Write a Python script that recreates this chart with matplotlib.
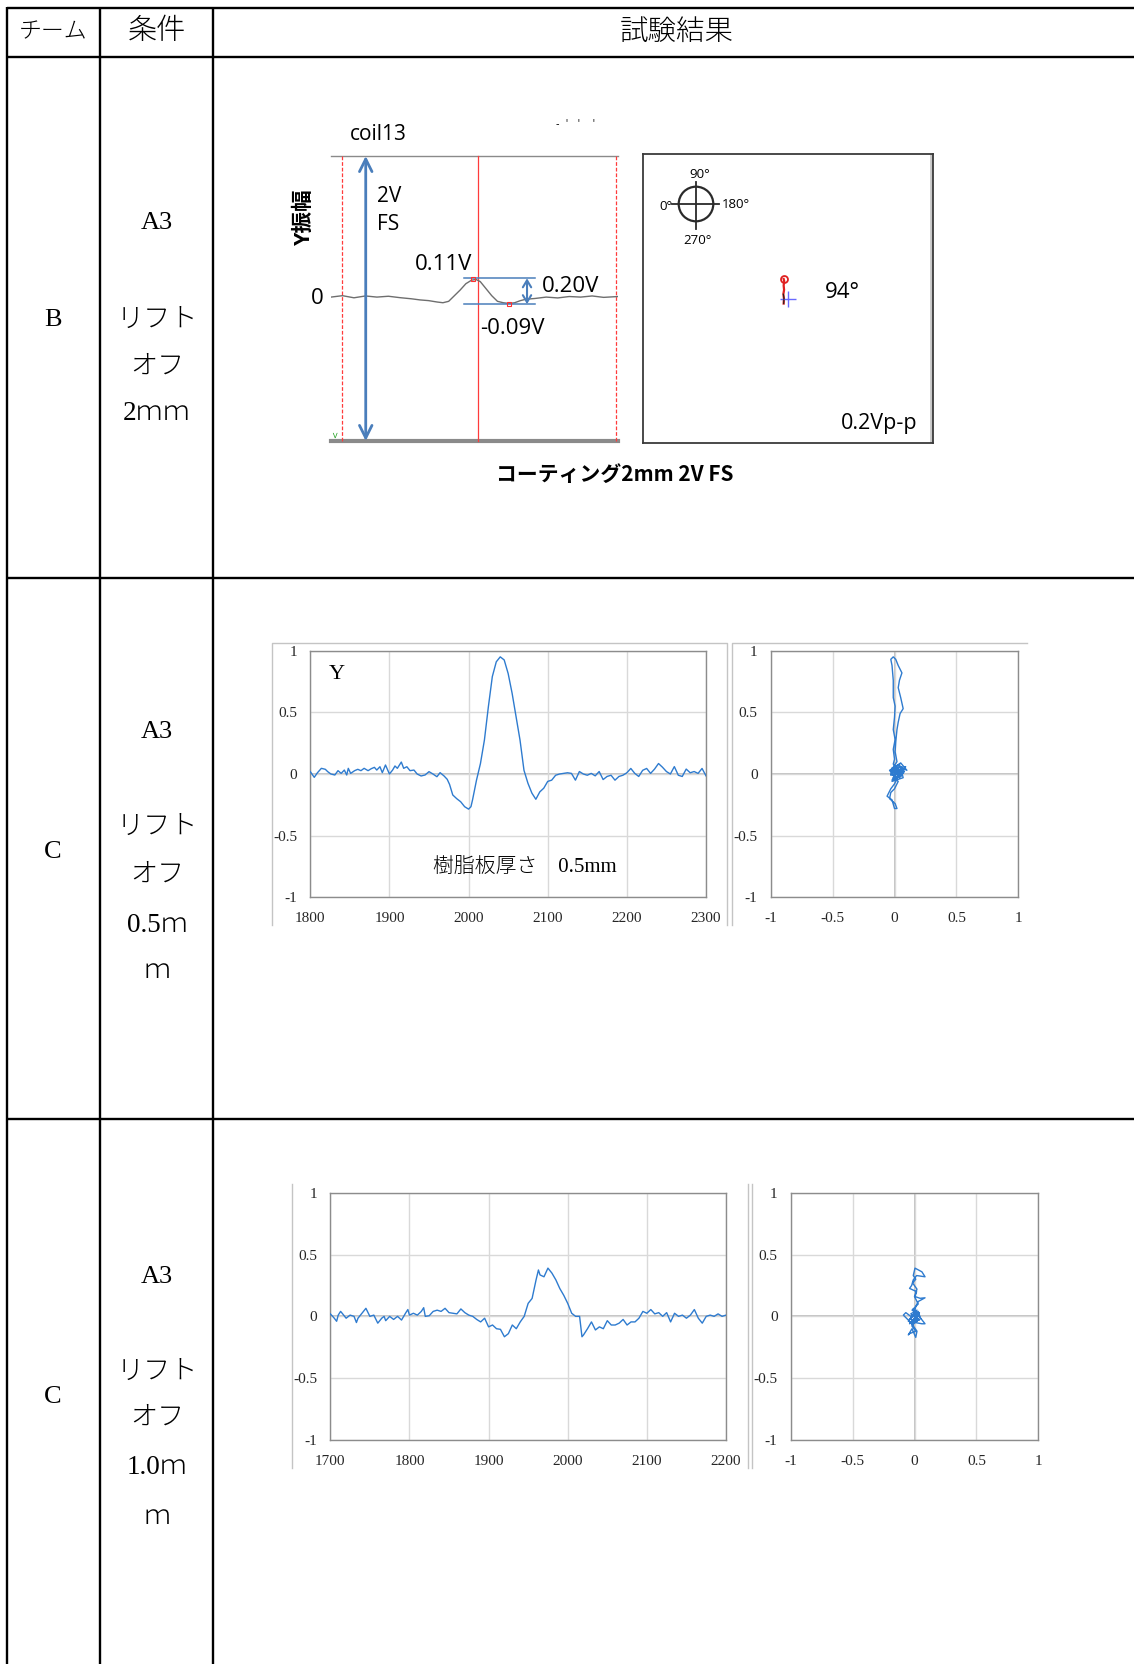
import matplotlib
matplotlib.use("Agg")
import matplotlib.pyplot as plt
from matplotlib.patches import Circle

W, H = 1134, 1664

# ---------------- table text ----------------
header_labels = ["チーム", "条件", "試験結果"]
team_labels = ["B", "C", "C"]
condition_lines = [
    ["A3", "リフト", "オフ", "2ｍｍ"],
    ["A3", "リフト", "オフ", "0.5ｍ", "ｍ"],
    ["A3", "リフト", "オフ", "1.0ｍ", "ｍ"],
]

# ---------------- row B : instrument screen (coil13) ----------------
b_x = [0, 4, 8, 12, 16, 20, 24, 28, 31, 34, 37, 39, 41, 43, 45, 47, 49, 50.5,
       52, 54, 56, 58, 60, 62, 64, 66, 68, 71, 75, 79, 83, 87, 91, 95, 100]
b_y = [0.0, 0.01, -0.005, 0.008, 0.0, 0.006, -0.004, -0.012, -0.02, -0.025,
       -0.035, -0.04, -0.03, 0.01, 0.05, 0.095, 0.12, 0.125, 0.11, 0.06, 0.01,
       -0.03, -0.04, -0.045, -0.04, -0.025, -0.015, -0.01, 0.0, -0.006, 0.004,
       0.0, 0.008, -0.002, 0.004]
cursor_x = [3.7, 51.2, 99.3]
fs_arrow_x = 12.1

# phase display (row B right)
ph_x = [-0.03, -0.028, -0.032, -0.027, -0.03, -0.026, -0.03]
ph_y = [-0.035, 0.0, 0.03, 0.06, 0.09, 0.12, 0.135]

# ---------------- row C (0.5mm) ----------------
c1_x = [1800, 1805, 1809, 1814, 1819, 1822, 1826, 1831, 1835, 1839, 1843, 1846,
        1848, 1851, 1856, 1860, 1864, 1868, 1873, 1877, 1881, 1884, 1888, 1891,
        1895, 1900, 1904, 1907, 1910, 1915, 1918, 1922, 1926, 1931, 1935, 1940,
        1945, 1950, 1955, 1960, 1964, 1969, 1973,
        1976, 1980, 1985, 1990, 1995, 2000, 2003, 2005, 2010, 2015, 2020, 2025,
        2030, 2035, 2040, 2045, 2050, 2055, 2060, 2065, 2070, 2075, 2080, 2085,
        2090, 2095, 2100, 2105, 2110, 2115, 2120, 2125, 2130, 2135, 2140, 2145,
        2150, 2155, 2160, 2165, 2170, 2175, 2180, 2185, 2190, 2195, 2200, 2205,
        2210, 2215, 2220, 2225, 2230, 2235, 2240, 2245, 2250, 2255, 2260, 2265,
        2270, 2275, 2280, 2285, 2290, 2295, 2300]
c1_y = [0.019, -0.027, 0.01, 0.046, 0.038, 0.019, 0.0, -0.008, 0.027, 0.005,
        0.032, -0.008, 0.046, 0.005, 0.027, 0.038, 0.027, 0.046, 0.027, 0.043,
        0.054, 0.032, 0.059, 0.011, 0.073, 0.0, 0.032, 0.065, 0.046, 0.097,
        0.046, 0.059, 0.027, 0.032, 0.0, -0.016, -0.008, 0.019, 0.0, -0.022,
        0.011, -0.016, -0.043,
        -0.085, -0.17, -0.2, -0.225, -0.265, -0.285, -0.265,
        -0.21, -0.05, 0.085, 0.275, 0.545, 0.79, 0.91, 0.95, 0.925, 0.815, 0.655,
        0.465, 0.275, 0.03, -0.075, -0.155, -0.205, -0.145, -0.115, -0.06, -0.05,
        -0.01, 0.0, 0.005, 0.01, 0.005, -0.05, 0.02, 0.0, -0.01, 0.005, -0.015,
        0.02, -0.045, -0.02, -0.01, -0.05, -0.02, -0.01, 0.01, 0.045, 0.005,
        -0.02, 0.03, 0.045, 0.005, 0.04, 0.085, 0.055, 0.02, 0.0, 0.06, -0.01,
        -0.02, 0.04, 0.01, 0.02, 0.005, 0.045, -0.015]
# X-Y (Lissajous) trace, read as (x, y) pairs along the path
c1_xy = [(0.0, 0.0), (0.03, 0.05), (-0.02, 0.02), (0.05, -0.02), (0.08, 0.04),
         (0.02, 0.07), (-0.03, -0.01), (0.06, 0.02), (0.09, 0.06), (0.01, -0.04),
         (-0.04, 0.03), (0.04, 0.08), (0.07, -0.03), (-0.02, -0.06),
         (0.03, -0.02), (0.0, -0.08), (-0.03, -0.12), (-0.06, -0.18),
         (-0.02, -0.21), (0.0, -0.28), (0.02, -0.28), (0.005, -0.24),
         (-0.04, -0.2), (-0.03, -0.15), (0.0, -0.12), (0.03, -0.06),
         (-0.01, -0.03), (0.02, 0.01), (0.06, 0.05), (0.1, 0.03), (0.05, 0.09),
         (0.01, 0.06), (-0.03, 0.0), (0.04, -0.03), (0.08, 0.02), (-0.02, 0.05),
         (0.02, -0.04), (0.06, 0.06), (-0.03, 0.03), (0.05, -0.01), (0.0, 0.07),
         (0.07, 0.01), (-0.02, -0.05), (0.03, 0.04), (-0.01, 0.08), (0.0, 0.12),
         (-0.01, 0.2), (0.005, 0.28), (-0.01, 0.36), (0.0, 0.46), (0.005, 0.55),
         (-0.01, 0.62), (-0.01, 0.76), (-0.02, 0.88), (-0.03, 0.93),
         (-0.01, 0.95), (0.01, 0.93), (0.03, 0.88), (0.06, 0.82), (0.04, 0.76),
         (0.03, 0.7), (0.05, 0.62), (0.07, 0.53), (0.045, 0.49), (0.03, 0.42),
         (0.02, 0.36), (0.01, 0.26), (0.005, 0.18), (0.02, 0.1), (-0.02, 0.04),
         (0.04, 0.0), (0.01, 0.03), (0.06, -0.01), (-0.01, 0.02), (0.03, 0.04),
         (0.0, 0.01)]

# ---------------- row C (1.0mm) ----------------
c2_x = [1700, 1703, 1705, 1708, 1710, 1713, 1715, 1720, 1725, 1730, 1733, 1735,
        1740, 1745, 1750, 1755, 1760, 1765, 1768, 1770, 1775, 1780, 1785, 1790,
        1795, 1798, 1800, 1805, 1810, 1815, 1818, 1820, 1825, 1830, 1835, 1840,
        1845, 1850, 1855, 1860, 1865, 1870, 1875, 1880, 1885, 1890, 1895, 1900,
        1905, 1910, 1915, 1920, 1925, 1930, 1935, 1940, 1945, 1950, 1955, 1960,
        1963, 1965, 1970, 1975, 1980, 1985, 1990, 1995, 2000, 2005, 2010, 2015,
        2018, 2020, 2025, 2030, 2035, 2040, 2045, 2050, 2055, 2060, 2065, 2070,
        2075, 2080, 2085, 2090, 2095, 2100, 2105, 2110, 2115, 2120, 2125, 2130,
        2135, 2140, 2145, 2150, 2155, 2160, 2165, 2170, 2175, 2180, 2185, 2190,
        2195, 2200]
c2_y = [0.02, 0.0, -0.015, -0.04, 0.01, 0.04, 0.025, -0.015, 0.01, 0.0, -0.05,
        -0.015, 0.025, 0.065, 0.0, 0.01, -0.055, -0.015, 0.0, -0.035, 0.0,
        -0.025, 0.0, -0.03, 0.025, 0.055, 0.01, 0.025, 0.01, 0.04, 0.07, 0.0,
        0.005, 0.04, 0.05, 0.04, 0.065, 0.03, 0.025, 0.02, 0.06, 0.03, 0.01, 0.0,
        -0.025, -0.045, -0.015, -0.085, -0.07, -0.1, -0.105, -0.165, -0.14,
        -0.07, -0.1, -0.045, 0.0, 0.105, 0.145, 0.295, 0.375, 0.335, 0.32, 0.39,
        0.35, 0.295, 0.225, 0.17, 0.105, 0.025, 0.0, 0.0, -0.165, -0.15, -0.1,
        -0.045, -0.11, -0.085, -0.1, -0.035, -0.07, -0.07, -0.055, -0.025, -0.07,
        -0.045, -0.045, -0.015, 0.04, 0.025, 0.055, 0.02, 0.03, 0.0, 0.03,
        -0.045, 0.025, 0.0, 0.01, -0.015, 0.01, 0.055, -0.015, -0.055, 0.0,
        0.01, 0.0, 0.02, 0.0, 0.01]
c2_xy = [(0.0, 0.0), (0.04, -0.03), (-0.03, 0.02), (0.02, 0.05), (-0.05, -0.04),
         (0.06, -0.06), (0.085, -0.06), (0.03, 0.01), (-0.02, -0.08),
         (0.01, -0.12), (-0.04, -0.14), (-0.05, -0.15), (-0.02, -0.1),
         (0.01, -0.17), (0.02, -0.12), (-0.03, -0.05), (-0.09, 0.01),
         (-0.07, 0.03), (-0.03, 0.0), (0.03, 0.04), (0.05, -0.02), (-0.01, 0.06),
         (0.02, -0.04), (-0.04, -0.02), (0.04, 0.03), (-0.02, -0.07),
         (0.03, -0.03), (0.0, 0.03), (0.01, 0.08), (0.03, 0.12), (0.085, 0.15),
         (0.045, 0.146), (0.004, 0.16), (0.017, 0.2), (-0.04, 0.226),
         (-0.03, 0.24), (-0.023, 0.25), (-0.01, 0.295), (0.017, 0.33),
         (0.085, 0.32), (0.06, 0.36), (0.004, 0.39), (-0.01, 0.33), (0.01, 0.3),
         (-0.015, 0.27), (0.02, 0.22), (0.0, 0.16), (0.03, 0.1), (-0.02, 0.05),
         (0.03, 0.02), (-0.04, -0.06), (0.0, -0.02)]

y_ticks = [-1, -0.5, 0, 0.5, 1]
y_tick_labels = ["-1", "-0.5", "0", "0.5", "1"]

SERIF_JP = ["Liberation Serif", "Noto Sans CJK JP"]
SANS_JP = ["Open Sans", "Noto Sans CJK JP"]
EXCEL_BLUE = "#2e7bcf"
ARROW_BLUE = "#4a7ebb"


def px_axes(fig, x0, y0, x1, y1):
    return fig.add_axes([x0 / W, 1 - y1 / H, (x1 - x0) / W, (y1 - y0) / H])


def excel_axes(ax, xlim, xticks, xy=False):
    ax.set_facecolor("white")
    ax.set_xlim(*xlim)
    ax.set_ylim(-1, 1)
    ax.set_xticks(xticks)
    if xy:
        ax.set_xticklabels(y_tick_labels)
    else:
        ax.set_xticklabels([str(t) for t in xticks])
    ax.set_yticks(y_ticks)
    ax.set_yticklabels(y_tick_labels)
    ax.grid(True, color="#d9d9d9", linewidth=1.0, zorder=0)
    ax.axhline(0, color="#bdbdbd", linewidth=1.3, zorder=1)
    if xy:
        ax.axvline(0, color="#bdbdbd", linewidth=1.3, zorder=1)
    ax.tick_params(length=0, labelsize=11)
    ax.tick_params(axis="y", pad=9.5)
    ax.tick_params(axis="x", pad=10.5)
    for lab in ax.get_xticklabels() + ax.get_yticklabels():
        lab.set_family("Liberation Serif")
        lab.set_color("#262626")
    for sp in ax.spines.values():
        sp.set_color("#8c8c8c")
        sp.set_linewidth(1.0)


def main() -> int:
    fig = plt.figure(figsize=(W / 100, H / 100), dpi=100)
    fig.patch.set_facecolor("white")

    # full-page overlay in pixel units for the table
    base = fig.add_axes([0, 0, 1, 1])
    base.set_xlim(0, W)
    base.set_ylim(H, 0)
    base.set_axis_off()

    lw_t = 1.7
    for x in [7, 100, 213]:
        base.plot([x, x], [6.5, H], color="black", lw=lw_t, solid_capstyle="butt")
    for y in [7.5, 57, 578, 1119]:
        base.plot([6.5, W], [y, y], color="black", lw=lw_t, solid_capstyle="butt")

    base.text(53, 33, header_labels[0], ha="center", va="center", fontsize=16.5,
              family=SERIF_JP, weight="light")
    base.text(157, 32, header_labels[1], ha="center", va="center", fontsize=21,
              family=SERIF_JP, weight="light")
    base.text(677, 33, header_labels[2], ha="center", va="center", fontsize=20.5,
              family=SERIF_JP, weight="light")

    team_y = [320, 852, 1397]
    cond_y = [[223, 320, 367, 413], [732, 827, 875, 925, 972],
              [1277, 1372, 1418, 1468, 1517]]
    for lab, ty, lines, ys in zip(team_labels, team_y, condition_lines, cond_y):
        base.text(53, ty, lab, ha="center", va="center", fontsize=19,
                  family=SERIF_JP)
        for s, yy in zip(lines, ys):
            fsz = 19 if s == "A3" else 19.5
            base.text(157, yy, s, ha="center", va="center", fontsize=fsz,
                      family=SERIF_JP, weight="light")

    # ---------- row B : waveform screen ----------
    ax = px_axes(fig, 331, 156, 618, 441)
    ax.set_facecolor("none")
    ax.set_xlim(0, 100)
    ax.set_ylim(-1.02, 1.0)
    ax.set_axis_off()
    ax.axhline(1.0, color="#8a8a8a", lw=1.0, clip_on=False)
    ax.axhline(-1.02, color="#8a8a8a", lw=3.0, clip_on=False)
    for i, cx in enumerate(cursor_x):
        ax.axvline(cx, color="#ff3b3b", lw=0.9,
                   linestyle="-" if i == 1 else (0, (3, 1.5)), clip_on=False)
    ax.plot(b_x, b_y, color="#6e6e6e", lw=1.0)
    ax.annotate("", xy=(fs_arrow_x, 1.0), xytext=(fs_arrow_x, -1.02),
                arrowprops=dict(arrowstyle="<->,head_length=0.9,head_width=0.45",
                                color=ARROW_BLUE, lw=2.0, shrinkA=0, shrinkB=0))
    i_max = max(range(len(b_y)), key=lambda i: b_y[i])
    i_min = min(range(len(b_y)), key=lambda i: b_y[i] if b_x[i] > b_x[i_max] else 9)
    y_hi, y_lo = b_y[i_max] + 0.008, b_y[i_min] - 0.005
    ax.plot([46.3, 71.1], [y_hi, y_hi], color=ARROW_BLUE, lw=1.1)
    ax.plot([46.3, 71.1], [y_lo, y_lo], color=ARROW_BLUE, lw=1.1)
    ax.annotate("", xy=(68.3, y_hi), xytext=(68.3, y_lo),
                arrowprops=dict(arrowstyle="<->,head_length=0.5,head_width=0.3",
                                color=ARROW_BLUE, lw=1.5, shrinkA=0, shrinkB=0))
    ax.plot([b_x[i_max] - 1], [b_y[i_max] + 0.003], "s", ms=3.5, mfc="none",
            mec="#ff3030", mew=0.8)
    ax.plot([b_x[i_min]], [b_y[i_min] - 0.005], "s", ms=3.5, mfc="none",
            mec="#ff3030", mew=0.8)

    base.text(350, 135, "coil13", ha="left", va="center", fontsize=15,
              family=SANS_JP)
    base.text(377, 197, "2V", ha="left", va="center", fontsize=15, family=SANS_JP)
    base.text(377, 225, "FS", ha="left", va="center", fontsize=15, family=SANS_JP)
    base.text(415, 265, "0.11V", ha="left", va="center", fontsize=16,
              family=SANS_JP)
    base.text(542, 287, "0.20V", ha="left", va="center", fontsize=16,
              family=SANS_JP)
    base.text(480, 328, "-0.09V", ha="left", va="center", fontsize=16,
              family=SANS_JP)
    base.text(317, 299, "0", ha="center", va="center", fontsize=16,
              family=SANS_JP)
    base.text(304, 217, "Y振幅", ha="center", va="center", fontsize=15.5,
              rotation=90, weight="bold", family=SANS_JP)
    base.text(615, 474, "コーティング2mm 2V FS", ha="center", va="center",
              fontsize=15, weight="bold", family=["Noto Sans CJK JP"])
    base.text(576, 124, "-  '   '    '", ha="center", va="center", fontsize=7,
              family="DejaVu Sans")
    base.text(335, 435, "<", ha="center", va="center", fontsize=6,
              color="#20a020", rotation=90)

    # ---------- row B : phase display ----------
    ap = px_axes(fig, 643, 154, 933, 443)
    ap.set_facecolor("none")
    ap.set_xlim(-1, 1)
    ap.set_ylim(-1, 1)
    ap.set_xticks([])
    ap.set_yticks([])
    for sp in ap.spines.values():
        sp.set_color("#3a3a3a")
        sp.set_linewidth(1.3)
    ap.axvline(0.985, color="#c8c8c8", lw=2.0)
    ap.plot(ph_x, ph_y, color="#e02020", lw=1.6)
    ap.plot([ph_x[-1]], [ph_y[-1]], "o", ms=5, mfc="none", mec="#e02020", mew=1.3)
    ap.plot([0.0], [0.0], "+", ms=12, color="#6a6aff", mew=1.0)
    ap.plot(ph_x[:3], ph_y[:3], color="#202020", lw=0.8)

    base.add_patch(Circle((696, 204), 17.3, fill=False, ec="#2a2a2a", lw=1.6))
    base.plot([672, 719], [204, 204], color="#2a2a2a", lw=1.3)
    base.plot([696, 696], [182, 229], color="#2a2a2a", lw=1.3)
    base.text(700, 174, "90°", ha="center", va="center", fontsize=9.5,
              family=SANS_JP)
    base.text(673, 206, "0°", ha="right", va="center", fontsize=9.5,
              family=SANS_JP)
    base.text(722, 205, "180°", ha="left", va="center", fontsize=9.5,
              family=SANS_JP)
    base.text(697, 240, "270°", ha="center", va="center", fontsize=9.5,
              family=SANS_JP)
    base.text(825, 292, "94°", ha="left", va="center", fontsize=16,
              family=SANS_JP)
    base.text(917, 424, "0.2Vp-p", ha="right", va="center", fontsize=15.5,
              family=SANS_JP)

    # ---------- chart frames (Excel chart areas) ----------
    frame = "#c4c4c4"
    base.plot([271.7, 271.7, 727, 727], [925, 642.7, 642.7, 925], color=frame, lw=1)
    base.plot([731.7, 731.7, 1027], [925, 642.7, 642.7], color=frame, lw=1)
    for x in [291.7, 748.3, 751.7]:
        base.plot([x, x], [1184, 1468], color=frame, lw=1)

    # ---------- row C 0.5mm ----------
    a1 = px_axes(fig, 310.3, 650.7, 706, 897.3)
    excel_axes(a1, (1800, 2300), [1800, 1900, 2000, 2100, 2200, 2300])
    a1.plot(c1_x, c1_y, color=EXCEL_BLUE, lw=1.0, zorder=3)
    a1.text(0.067, 0.905, "Y", transform=a1.transAxes, ha="center", va="center",
            fontsize=16, family="Liberation Serif")
    a1.text(0.543, 0.119, "樹脂板厚さ　0.5mm", transform=a1.transAxes,
            ha="center", va="center", fontsize=15, family=SERIF_JP,
            weight="light")

    b1 = px_axes(fig, 770.7, 650.7, 1018.3, 897.3)
    excel_axes(b1, (-1, 1), y_ticks, xy=True)
    b1.plot([p[0] for p in c1_xy], [p[1] for p in c1_xy], color=EXCEL_BLUE,
            lw=1.0, zorder=3)

    # ---------- row C 1.0mm ----------
    a2 = px_axes(fig, 330.3, 1192.7, 726, 1440)
    excel_axes(a2, (1700, 2200), [1700, 1800, 1900, 2000, 2100, 2200])
    a2.plot(c2_x, c2_y, color=EXCEL_BLUE, lw=1.0, zorder=3)

    b2 = px_axes(fig, 790.7, 1192.7, 1038.3, 1440)
    excel_axes(b2, (-1, 1), y_ticks, xy=True)
    b2.plot([p[0] for p in c2_xy], [p[1] for p in c2_xy], color=EXCEL_BLUE,
            lw=1.0, zorder=3)

    fig.savefig("out.png", dpi=100, facecolor="white")
    plt.close(fig)
    return 0


if __name__ == "__main__":
    raise SystemExit(main())
